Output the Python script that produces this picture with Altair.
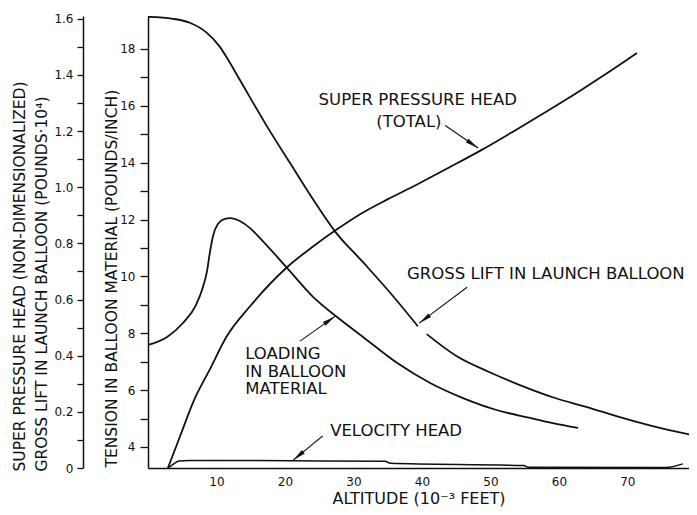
import math
import altair as alt
import pandas as pd

# ---------------- data ----------------
# Gross lift in launch balloon (pounds x 10^4), outer left scale
gross_alt = [0, 3.65, 6.1, 8.6, 10.5, 11.7, 13.4, 17.4, 20.7, 24.1, 27.3, 31.4,
             35.3, 39.4, 40.7, 45.1, 49.9, 55.8, 59.1, 64.1, 68.9, 73.7, 80.1]
gross_lift = [1.607, 1.600, 1.586, 1.550, 1.500, 1.454, 1.383, 1.216, 1.088, 0.957,
              0.843, 0.733, 0.626, 0.505, 0.477, 0.398, 0.341, 0.281, 0.252, 0.217,
              0.181, 0.149, 0.114]
# the drawn curve is broken where the label arrow meets it
gross_piece = [1] * 14 + [2] * 9

# Super pressure head (total), outer left scale
sp_alt = [2.9, 4.7, 6.6, 9.05, 11.5, 14.9, 20.3, 24.1, 27.6, 31.4, 34.9, 39.3,
          44.1, 48.8, 53.3, 58.2, 63.1, 67.9, 71.4]
sp_head = [0.0, 0.114, 0.235, 0.352, 0.469, 0.576, 0.715, 0.789, 0.850, 0.910,
           0.956, 1.010, 1.072, 1.134, 1.198, 1.270, 1.344, 1.420, 1.478]

# Velocity head, outer left scale
vh_alt = [2.9, 3.6, 4.5, 6.0, 15.0, 25.0, 34.6, 35.4, 54.9, 55.5, 75.6, 78.1]
vh_head = [0.0, 0.012, 0.025, 0.027, 0.027, 0.025, 0.024, 0.017, 0.0085, 0.003,
           0.002, 0.0146]

# Loading in balloon material (tension, pounds/inch), inner left scale
load_alt = [0, 2.8, 5.1, 7.0, 8.03, 8.6, 9.05, 9.5, 10.2, 11.2, 12.0, 13.4, 14.9,
            16.35, 20.3, 24.1, 27.6, 31.4, 36.4, 41.2, 46.0, 50.9, 55.8, 59.1, 62.8]
load_tension = [7.59, 7.87, 8.36, 8.99, 9.63, 10.16, 10.86, 11.42, 11.84, 12.02,
                12.05, 11.95, 11.70, 11.35, 10.30, 9.28, 8.57, 7.87, 6.95, 6.25,
                5.72, 5.30, 5.02, 4.84, 4.67]

# Annotation labels (positions in data units: altitude, outer scale)
center_text = ["SUPER PRESSURE HEAD", "(TOTAL)", "GROSS LIFT IN LAUNCH BALLOON"]
center_alt = [39.4, 38.1, 58.1]
center_val = [1.312, 1.234, 0.690]

left_text = ["LOADING", "IN BALLOON", "MATERIAL", "VELOCITY HEAD"]
left_alt = [14.2, 14.2, 14.2, 26.6]
left_val = [0.405, 0.342, 0.281, 0.132]

# Annotation arrows (tail -> tip)
arrow_tail_alt = [43.4, 46.6, 22.2, 25.5]
arrow_tail_val = [1.220, 0.644, 0.452, 0.114]
arrow_tip_alt = [48.2, 39.6, 27.3, 21.2]
arrow_tip_val = [1.140, 0.516, 0.540, 0.028]

# ---------------- layout / style ----------------
W, H = 541, 452
X_DOM = [0, 79]
OUT_DOM = [0, 1.61]
TEN_DOM = [3.26, 19.16]
FONT = "DejaVu Sans"
INK = "#111111"

sx = W / (X_DOM[1] - X_DOM[0])
sy = H / (OUT_DOM[1] - OUT_DOM[0])

x_axis = alt.Axis(
    values=list(range(10, 80, 10)), ticks=False, labelPadding=8,
    labelFont=FONT, labelFontSize=12, labelColor=INK,
    domainColor=INK, domainWidth=1.5, grid=False,
    title="ALTITUDE (10⁻³ FEET)", titleFont=FONT, titleFontSize=16,
    titleFontWeight="normal", titleColor=INK, titleY=35, titleBaseline="alphabetic",
)

out_axis = alt.Axis(
    orient="left", offset=65, values=[round(i * 0.1, 1) for i in range(17)],
    labelExpr="round(datum.value*10) % 2 == 0 ? (datum.value == 0 ? '0' : format(datum.value, '.1f')) : ''",
    tickSize=6, tickColor=INK, tickWidth=1.3, domainColor=INK, domainWidth=1.5,
    labelPadding=4, labelFont=FONT, labelFontSize=12, labelColor=INK, grid=False,
    title=["SUPER PRESSURE HEAD (NON-DIMENSIONALIZED)",
           "GROSS LIFT IN LAUNCH BALLOON (POUNDS·10⁴)"],
    titleFont=FONT, titleFontSize=15.5, titleFontWeight="normal", titleColor=INK,
    titleAngle=270, titleAlign="left", titleBaseline="top",
    titleX=-71, titleY=455, titleLineHeight=22,
)

ten_axis = alt.Axis(
    orient="left", values=list(range(4, 19)),
    labelExpr="datum.value % 2 == 0 ? format(datum.value, 'd') : ''",
    tickSize=8, tickColor=INK, tickWidth=1.3, domainColor=INK, domainWidth=1.5,
    labelPadding=5, labelFont=FONT, labelFontSize=12, labelColor=INK, grid=False,
    title="TENSION IN BALLOON MATERIAL (POUNDS/INCH)",
    titleFont=FONT, titleFontSize=15.5, titleFontWeight="normal", titleColor=INK,
    titleAngle=270, titleAlign="left", titleBaseline="top",
    titleX=-44, titleY=451,
)


def xenc(field="alt"):
    return alt.X(f"{field}:Q", scale=alt.Scale(domain=X_DOM, nice=False, zero=False), axis=x_axis)


def yout(field="val"):
    return alt.Y(f"{field}:Q", scale=alt.Scale(domain=OUT_DOM, nice=False, zero=False), axis=out_axis)


line_style = dict(interpolate="monotone", color=INK, strokeWidth=1.8, clip=True)

gross_df = pd.DataFrame({"alt": gross_alt, "val": gross_lift, "piece": gross_piece})
sp_df = pd.DataFrame({"alt": sp_alt, "val": sp_head})
vh_df = pd.DataFrame({"alt": vh_alt, "val": vh_head})
load_df = pd.DataFrame({"alt": load_alt, "ten": load_tension})

gross = alt.Chart(gross_df).mark_line(**line_style).encode(
    x=xenc(), y=yout(), detail="piece:N", order="alt:Q")
sp = alt.Chart(sp_df).mark_line(**line_style).encode(x=xenc(), y=yout(), order="alt:Q")
vh = alt.Chart(vh_df).mark_line(interpolate="monotone", color=INK, strokeWidth=1.5, clip=True).encode(
    x=xenc(), y=yout(), order="alt:Q")

angles = []
for xa, ya, xb, yb in zip(arrow_tail_alt, arrow_tail_val, arrow_tip_alt, arrow_tip_val):
    dx = (xb - xa) * sx
    dy = -(yb - ya) * sy
    angles.append(math.degrees(math.atan2(dx, -dy)) % 360)

arrow_df = pd.DataFrame({"alt": arrow_tail_alt, "val": arrow_tail_val,
                         "alt2": arrow_tip_alt, "val2": arrow_tip_val, "ang": angles})

shafts = alt.Chart(arrow_df).mark_rule(color=INK, strokeWidth=1.1).encode(
    x=xenc(), y=yout(), x2="alt2:Q", y2="val2:Q")
heads = alt.Chart(arrow_df).mark_point(
    shape="M0,0L-0.42,2.4L0.42,2.4Z", filled=True, size=120, color=INK, opacity=1, strokeWidth=0
).encode(x=xenc("alt2"), y=yout("val2"), angle=alt.Angle("ang:Q", scale=None))

ctext = alt.Chart(pd.DataFrame({"alt": center_alt, "val": center_val, "t": center_text})).mark_text(
    font=FONT, fontSize=16.5, color=INK, align="center", baseline="middle"
).encode(x=xenc(), y=yout(), text="t:N")
ltext = alt.Chart(pd.DataFrame({"alt": left_alt, "val": left_val, "t": left_text})).mark_text(
    font=FONT, fontSize=16.5, color=INK, align="left", baseline="middle"
).encode(x=xenc(), y=yout(), text="t:N")

outer = alt.layer(gross, sp, vh, shafts, heads, ctext, ltext)

loading = alt.Chart(load_df).mark_line(**line_style).encode(
    x=xenc(),
    y=alt.Y("ten:Q", scale=alt.Scale(domain=TEN_DOM, nice=False, zero=False), axis=ten_axis),
    order="alt:Q",
)

chart = (
    alt.layer(outer, loading)
    .resolve_scale(y="independent")
    .properties(
        width=W, height=H,
        autosize=alt.AutoSizeParams(type="none"),
        padding={"left": 140, "top": 8, "right": 0, "bottom": 39},
        background="white",
    )
    .configure_view(stroke=None)
)

chart.save("out.html", embed_options={"renderer": "svg", "actions": False})
